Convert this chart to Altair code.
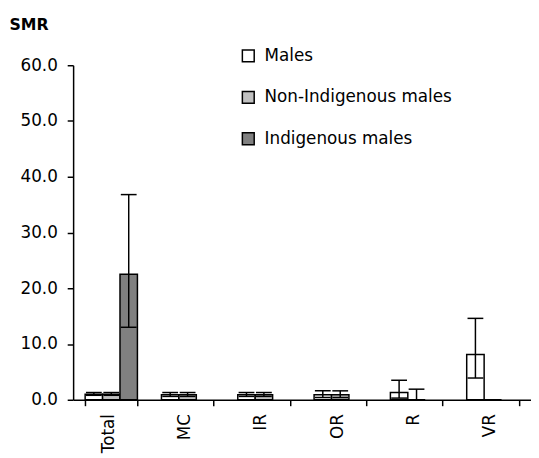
import altair as alt
import pandas as pd

categories = ["Total", "MC", "IR", "OR", "R", "VR"]
series = ["Males", "Non-Indigenous males", "Indigenous males"]
colors = ["#FFFFFF", "#C0C0C0", "#808080"]

males_val = [1.0, 0.9, 0.9, 0.9, 1.3, 8.1]
males_lo = [0.8, 0.6, 0.6, 0.4, 0.3, 3.9]
males_hi = [1.3, 1.3, 1.3, 1.6, 3.5, 14.6]

nonind_val = [1.0, 0.9, 0.9, 0.9, 0.0, 0.0]
nonind_lo = [0.8, 0.6, 0.6, 0.4, 0.0, None]
nonind_hi = [1.3, 1.3, 1.3, 1.6, 1.9, None]

ind_val = [22.5, None, None, None, None, None]
ind_lo = [13.0, None, None, None, None, None]
ind_hi = [36.8, None, None, None, None, None]

rows = []
for s, vals, los, his in [
    (series[0], males_val, males_lo, males_hi),
    (series[1], nonind_val, nonind_lo, nonind_hi),
    (series[2], ind_val, ind_lo, ind_hi),
]:
    for c, v, lo, hi in zip(categories, vals, los, his):
        if v is None:
            continue
        rows.append({"cat": c, "series": s, "value": v, "lo": lo, "hi": hi})
df = pd.DataFrame(rows)
err_df = df.dropna(subset=["lo", "hi"])

FONT = "DejaVu Sans"
FS = 17

x_enc = alt.X(
    "cat:N",
    sort=categories,
    scale=alt.Scale(paddingInner=0.315, paddingOuter=0.1575),
    axis=alt.Axis(
        title=None,
        labelAngle=-90,
        labelFontSize=FS,
        labelFont=FONT,
        labelColor="black",
        labelPadding=8,
        labelOffset=-3,
        tickBand="extent",
        tickSize=6,
        tickColor="black",
        tickWidth=1.5,
        domainColor="black",
        domainWidth=1.5,
    ),
)
xoff = alt.XOffset("series:N", sort=series, scale=alt.Scale(domain=series, paddingInner=0, paddingOuter=0))

y_axis = alt.Axis(
    title="SMR",
    titleAngle=0,
    titleX=-65,
    titleY=-36,
    titleAlign="left",
    titleBaseline="alphabetic",
    titleFont=FONT,
    titleFontSize=16,
    titleFontWeight="bold",
    titleColor="black",
    values=[0, 10, 20, 30, 40, 50, 60],
    format=".1f",
    labelFontSize=FS,
    labelFont=FONT,
    labelColor="black",
    labelPadding=10,
    tickSize=6,
    tickColor="black",
    tickWidth=1.5,
    domainColor="black",
    domainWidth=1.5,
    grid=False,
)

bars = alt.Chart(df).mark_bar(stroke="black", strokeWidth=1.5).encode(
    x=x_enc,
    xOffset=xoff,
    y=alt.Y("value:Q", scale=alt.Scale(domain=[0, 60], nice=False), axis=y_axis),
    fill=alt.Fill(
        "series:N",
        sort=series,
        scale=alt.Scale(domain=series, range=colors),
        legend=alt.Legend(
            title=None,
            orient="none",
            legendX=169,
            legendY=-18,
            padding=0,
            symbolType="square",
            symbolSize=144,
            symbolStrokeColor="black",
            symbolStrokeWidth=1.5,
            symbolOpacity=1,
            labelFont=FONT,
            labelFontSize=FS,
            labelColor="black",
            labelOffset=8,
            labelLimit=400,
            rowPadding=23,
        ),
    ),
)

rules = alt.Chart(err_df).mark_rule(color="black", strokeWidth=1.5).encode(
    x=alt.X("cat:N", sort=categories),
    xOffset=xoff,
    y="lo:Q",
    y2="hi:Q",
)

caps_hi = alt.Chart(err_df).mark_tick(color="black", size=16, thickness=1.5, opacity=1).encode(
    x=alt.X("cat:N", sort=categories),
    xOffset=xoff,
    y="hi:Q",
)
caps_lo = alt.Chart(err_df).mark_tick(color="black", size=16, thickness=1.5, opacity=1).encode(
    x=alt.X("cat:N", sort=categories),
    xOffset=xoff,
    y="lo:Q",
)

chart = (
    alt.layer(bars, rules, caps_hi, caps_lo)
    .properties(
        width=464,
        height=339,
        autosize=alt.AutoSizeParams(type="none"),
        padding={"left": 66, "top": 55, "right": 0, "bottom": 56},
    )
    .configure_view(stroke=None)
)

chart.save("out.html", embed_options={"renderer": "svg", "actions": False})
